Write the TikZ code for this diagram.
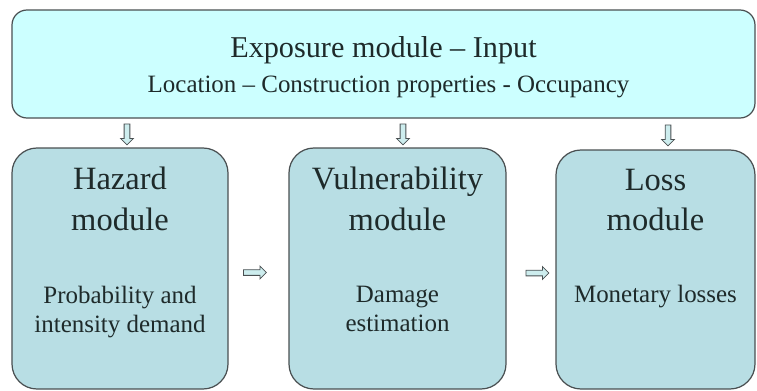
\documentclass[tikz,border=0pt]{standalone}
\usepackage{fontspec}
\setmainfont{Liberation Serif}
\usetikzlibrary{positioning,calc,shapes.arrows}
\definecolor{Frame}{HTML}{4A5052}
\definecolor{TopFill}{HTML}{CCFFFF}
\definecolor{ModFill}{HTML}{B8DEE4}
\definecolor{ArrowFill}{HTML}{CDEDEE}
\definecolor{Ink}{HTML}{1E2A2A}
\tikzset{
  topbox/.style={draw=Frame,fill=TopFill,rounded corners=0.3cm,line width=0.7pt,minimum width=14.86cm,minimum height=2.16cm},
  modbox/.style={draw=Frame,fill=ModFill,rounded corners=0.5cm,line width=0.7pt,minimum height=4.82cm},
  title/.style={align=center,font=\fontsize{18.5}{23}\selectfont,text=Ink},
  desc/.style={align=center,font=\fontsize{14.2}{16.5}\selectfont,text=Ink},
  blockarr/.style={draw=Frame,fill=ArrowFill,single arrow,inner sep=1.4pt,single arrow head extend=0.07cm,line width=0.45pt},
  downarr/.style={blockarr,shape border rotate=270,minimum height=0.42cm},
  rightarr/.style={blockarr,minimum height=0.46cm}
}

\begin{document}
\begin{tikzpicture}
  \useasboundingbox (0,0) rectangle (15.14,-7.82);
  % input box
  \node[topbox] (exp) at (7.67,-1.28) {};
  \node[title,anchor=base,font=\fontsize{17.2}{23}\selectfont] (expT) at ($(exp.north)+(0,-0.96)$) {Exposure module -- Input};
  \node[desc,anchor=base] (expD) at ($(exp.north)+(0.1,-1.66)$) {Location -- Construction properties - Occupancy};
  % modules
  \node[modbox,minimum width=4.32cm] (haz) at (2.4,-5.37) {};
  \node[modbox,minimum width=4.34cm] (vul) at (7.95,-5.37) {};
  \node[modbox,minimum width=3.98cm,minimum height=4.78cm] (los) at (13.11,-5.39) {};
  \node[title,below=0.27cm of haz.north] (hazT) {Hazard\\module};
  \node[title,below=0.27cm of vul.north] (vulT) {Vulnerability\\module};
  \node[title,below=0.27cm of los.north] (losT) {Loss\\module};
  \node[desc,below=0.22cm of haz.center] (hazD) {Probability and\\intensity demand};
  \node[desc,below=0.22cm of vul.center] (vulD) {Damage\\estimation};
  \node[desc,below=0.18cm of los.center] (losD) {Monetary losses};
  % arrows
  \node[downarr] (a1) at ($(exp.south -| haz.north)!0.5!(haz.north)+(0.14,0)$) {};
  \node[downarr] (a2) at ($(exp.south -| vul.north)!0.5!(vul.north)+(0.11,0)$) {};
  \node[downarr] (a3) at ($(exp.south -| los.north)!0.5!(los.north)+(0.25,0)$) {};
  \node[rightarr] (a4) at ($(haz.east)!0.5!(vul.west)+(-0.1,-0.08)$) {};
  \node[rightarr] (a5) at ($(vul.east)!0.5!(los.west)+(0.1,-0.08)$) {};
\end{tikzpicture}
\end{document}
